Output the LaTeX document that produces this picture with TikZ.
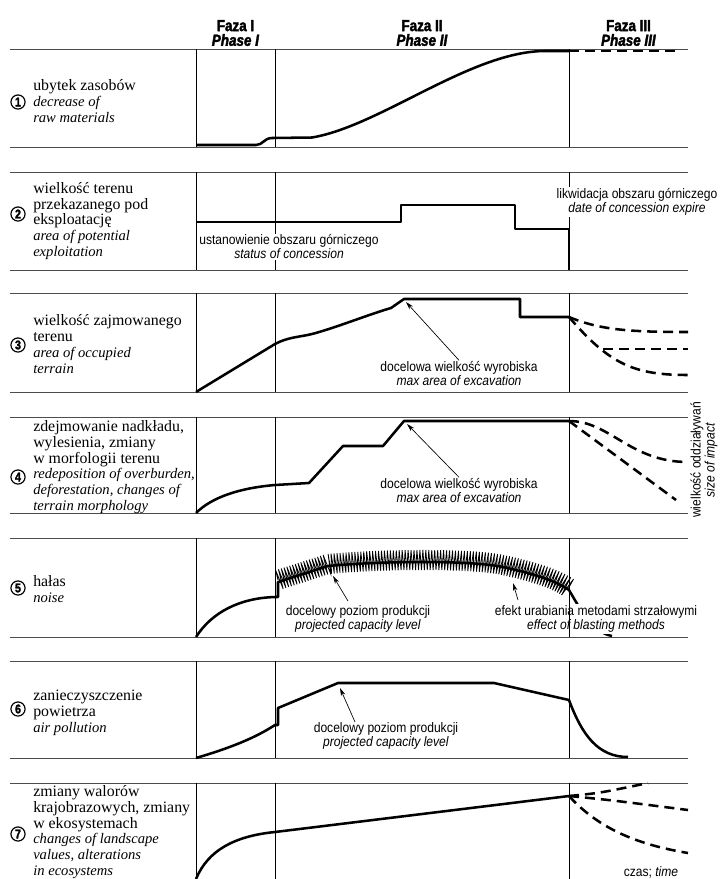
\documentclass[tikz,border=0pt]{standalone}
\usepackage{fontspec}
\setmainfont{Liberation Serif}
\newfontfamily\condfont[FakeStretch=0.88]{Liberation Sans}
\newfontfamily\headfont[FakeStretch=0.84, FakeBold=2.2, UprightFont={* Bold},
  ItalicFont={* Bold Italic}]{Liberation Sans}
\usetikzlibrary{arrows.meta, positioning, decorations.pathmorphing}
\tikzset{
    %Define standard arrow tip
    >={Stealth[length=6pt,width=3.4pt]},
}
\newcommand\eng[1]{{\fontsize{10.95}{11.8}\selectfont\itshape #1}}

\begin{document}
\begin{tikzpicture}[
  x=0.75pt, y=-0.75pt,
  every node/.style = {align=center, inner sep=1pt},
  hd/.style = {font=\headfont\fontsize{12}{11}\selectfont},
  txt/.style = {anchor=west, align=left, inner sep=0pt, font=\fontsize{11.9}{11.8}\selectfont},
  num/.style = {circle, draw, line width=0.9pt, inner sep=0pt, minimum size=10.6pt,
                font=\headfont\fontsize{9.5}{9.5}\selectfont},
  lbl/.style = {font=\condfont\fontsize{10.3}{10.5}\selectfont},
  box/.style = {lbl, fill=white},
  rule/.style = {draw=black!70, line width=0.6pt},
  vline/.style = {line width=0.6pt},
  crv/.style = {line width=1.9pt, line join=round},
  dsh/.style = {crv, dash pattern=on 7.5pt off 4.5pt},
  ptr/.style = {->, line width=0.5pt},
  noise/.style = {line width=0.6pt, decorate,
                  decoration={zigzag, segment length=2.2pt, amplitude=7.5pt}} ]
  \useasboundingbox (0,0) rectangle (722,879);

  % grid of the seven rows
  \foreach \t/\b in {49/147,172/270,293/392,417/513,538/637,661/758,783/879}{
    \draw[rule] (10,\t) -- (688,\t);
    \draw[vline] (196,\t) -- (196,\b) (275,\t) -- (275,\b) (569,\t) -- (569,\b);
  }
  \foreach \b in {147,270,392,513,637,758}
    \draw[rule] (10,\b) -- (688,\b);

  % phases
  \node[hd] (ph1) at (235.5,33) {Faza I\\\textit{Phase I}};
  \node[hd] (ph2) at (422,33) {Faza II\\\textit{Phase II}};
  \node[hd] (ph3) at (628.5,33) {Faza III\\\textit{Phase III}};

  % row titles
  \node[txt] (t1) at (33,101) {ubytek zasobów\\\eng{decrease of}\\\eng{raw materials}};
  \node[txt] (t2) at (33,221) {wielkość terenu\\przekazanego pod\\eksploatację\\
    \eng{area of potential}\\\eng{exploitation}};
  \node[txt] (t3) at (33,344) {wielkość zajmowanego\\terenu\\\eng{area of occupied}\\\eng{terrain}};
  \node[txt] (t4) at (33,467) {zdejmowanie nadkładu,\\wylesienia, zmiany\\w morfologii terenu\\
    \eng{redeposition of overburden,}\\\eng{deforestation, changes of}\\\eng{terrain morphology}};
  \node[txt] (t5) at (33,589) {hałas\\\eng{noise}};
  \node[txt] (t6) at (33,713) {zanieczyszczenie\\powietrza\\\eng{air pollution}};
  \node[txt] (t7) at (33,832) {zmiany walorów\\krajobrazowych, zmiany\\w ekosystemach\\
    \eng{changes of landscape}\\\eng{values, alterations}\\\eng{in ecosystems}};

  \node[num] (n1) at (18,102) {1};
  \node[num] (n2) at (18,214) {2};
  \node[num] (n3) at (18,345) {3};
  \node[num] (n4) at (18,477) {4};
  \node[num] (n5) at (18,588) {5};
  \node[num] (n6) at (18,709) {6};
  \node[num] (n7) at (18,834) {7};

  % 1
  \draw[crv] (196,145) -- (256,145) .. controls (263,145) and (264,138) .. (272,138) -- (312,137.5)
    .. controls (380,126) and (470,52) .. (544,51) -- (569,51);
  \draw[dsh] (569,51) -- (680,51);

  % 2
  \draw[crv] (196,222) -- (401,222) -- (401,205) -- (515,205) -- (515,229) -- (569,229) -- (569,270);
  \node[box] (est) at (289,247) {ustanowienie obszaru górniczego\\\textit{status of concession}};
  \node[box] (lik) at (637,202) {likwidacja obszaru górniczego\\\textit{date of concession expire}};

  % 3
  \draw[crv] (196,392) -- (275,344) .. controls (288,337) and (300,337) .. (312,334)
    .. controls (335,328) and (370,314) .. (391,308) -- (404,299) -- (520,299) -- (520,317) -- (569,317);
  \draw[dsh] (569,317) .. controls (600,330) and (630,332) .. (688,332);
  \draw[dsh] (569,317) .. controls (610,365) and (635,375) .. (688,375);
  \draw[dsh] (603,349) -- (688,349);
  \node[lbl] (dw3) at (459,374) {docelowa wielkość wyrobiska\\\textit{max area of excavation}};
  \coordinate (a3) at (406,302);
  \draw[ptr] (dw3.north) -- (a3);

  % 4
  \draw[crv] (196,513) .. controls (212,497) and (240,488) .. (275,485) -- (309,483) -- (343,446)
    -- (383,446) -- (404,421) -- (569,421);
  \draw[dsh] (569,421) .. controls (610,421) and (630,462) .. (688,462);
  \draw[dsh] (569,421) -- (676,500);
  \node[lbl] (dw4) at (459,491) {docelowa wielkość wyrobiska\\\textit{max area of excavation}};
  \coordinate (a4) at (407,424);
  \draw[ptr] (dw4.north) -- (a4);

  % 5
  \draw[crv] (196,637) .. controls (212,612) and (240,598) .. (275,597) -- (278,597) -- (278,582)
    -- (328,566) .. controls (380,561) and (470,560) .. (503,567)
    .. controls (530,573) and (555,580) .. (569,590) .. controls (582,612) and (592,632) .. (612,636);
  \draw[noise] (278,580) -- (328,564) .. controls (380,559) and (470,558) .. (503,565)
    .. controls (530,571) and (555,578) .. (569,588);
  \node[lbl] (dp5) at (358,619) {docelowy poziom produkcji\\\textit{projected capacity level}};
  \node[box] (ef5) at (596,619) {efekt urabiania metodami strzałowymi\\\textit{effect of blasting methods}};
  \draw[vline] (569,538) -- (569,637);
  \coordinate (a5) at (333,576);
  \coordinate (b5) at (513,583);
  \draw[ptr] (dp5.north) ++(-10,-3) -- (a5);
  \draw[ptr] (ef5.north) ++(-78,-4) -- (b5);

  % 6
  \draw[crv] (196,758) .. controls (230,748) and (255,738) .. (275,725) -- (278,725) -- (278,708)
    -- (338,683) -- (494,683) -- (569,700) .. controls (582,735) and (598,757) .. (628,757);
  \node[lbl] (dp6) at (386,736) {docelowy poziom produkcji\\\textit{projected capacity level}};
  \coordinate (a6) at (340,688);
  \draw[ptr] (dp6.north) ++(-31,1) -- (a6);

  % 7
  \draw[crv] (196,879) .. controls (208,850) and (235,836) .. (275,832) -- (569,796);
  \draw[dsh] (569,796) .. controls (600,793) .. (648,783);
  \draw[dsh] (569,796) .. controls (610,800) .. (688,810);
  \draw[dsh] (569,796) .. controls (600,830) and (640,845) .. (688,853);

  \node[lbl, rotate=90] (imp) at (704,460) {wielkość oddziaływań\\\textit{size of impact}};
  \node[lbl] (cz) at (651,872) {czas; \textit{time}};
\end{tikzpicture}
\end{document}
